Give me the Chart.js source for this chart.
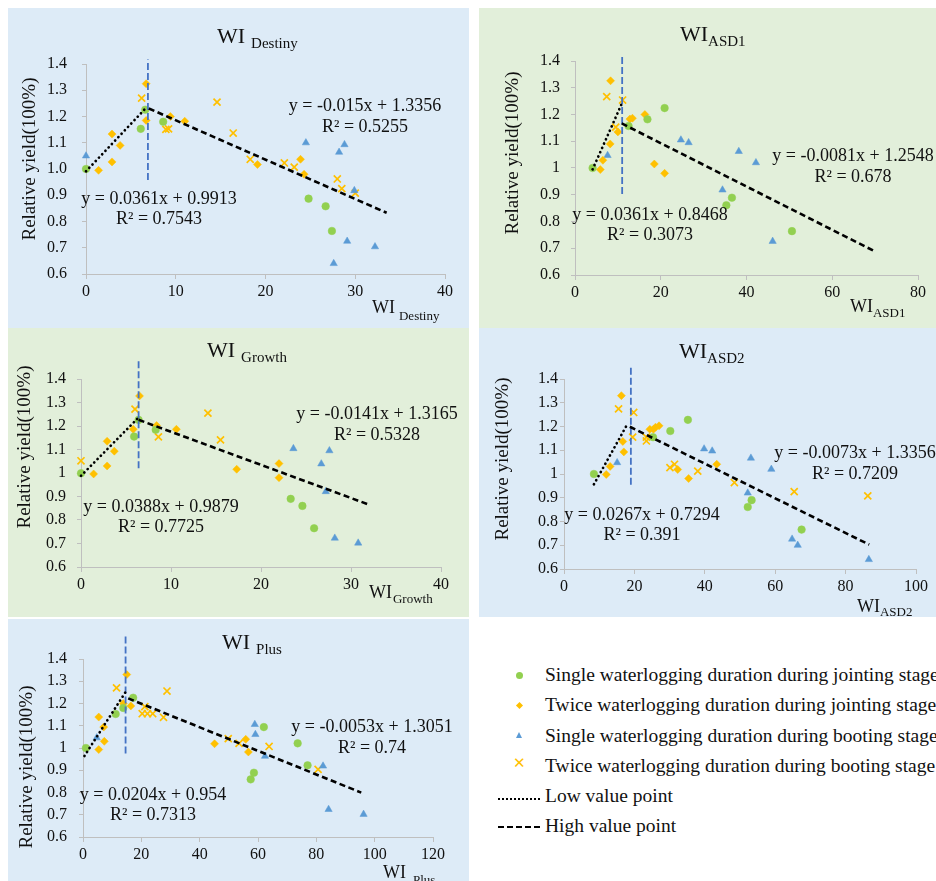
<!DOCTYPE html>
<html>
<head>
<meta charset="utf-8">
<script src="https://cdn.jsdelivr.net/npm/chart.js@4.4.1/dist/chart.umd.min.js"></script>
<style>
  body { margin: 0; width: 936px; height: 881px; position: relative; overflow: hidden; background: #fff; font-family: "Liberation Serif", serif; }
  canvas { position: absolute; }
  .blue { background: #DDEBF7; }
  .green { background: #E2EFDA; }
  .row { position: absolute; left: 545px; height: 22px; line-height: 22px; font-size: 19.5px; color: #111; white-space: nowrap; }
  .mk { position: absolute; }
</style>
</head>
<body>
<canvas id="pDestiny" class="blue" width="461" height="320" style="left:8px;top:8px"></canvas>
<canvas id="pASD1" class="green" width="457" height="320" style="left:479px;top:8px"></canvas>
<canvas id="pGrowth" class="green" width="461" height="289" style="left:8px;top:328px"></canvas>
<canvas id="pASD2" class="blue" width="457" height="289" style="left:479px;top:328px"></canvas>
<canvas id="pPlus" class="blue" width="461" height="262" style="left:8px;top:619px"></canvas>

<div id="legend">
  <span class="mk" style="left:516px;top:672px;width:7px;height:7px;border-radius:50%;background:#92D050"></span>
  <div class="row" style="top:664px">Single waterlogging duration during jointing stage</div>
  <span class="mk" style="left:516.5px;top:702.5px;width:5px;height:5px;transform:rotate(45deg);background:#FFC000"></span>
  <div class="row" style="top:694px">Twice waterlogging duration during jointing stage</div>
  <span class="mk" style="left:515.5px;top:732px;width:0;height:0;border-left:3.5px solid transparent;border-right:3.5px solid transparent;border-bottom:6px solid #5B9BD5"></span>
  <div class="row" style="top:725px">Single waterlogging duration during booting stage</div>
  <span class="mk" style="left:513px;top:754px;font-size:15px;color:#FFC000;font-family:'DejaVu Sans'">&#x2715;</span>
  <div class="row" style="top:755px">Twice waterlogging duration during booting stage</div>
  <span class="mk" style="left:498px;top:798px;width:42px;border-top:2px dotted #000"></span>
  <div class="row" style="top:785px">Low value point</div>
  <span class="mk" style="left:498px;top:826px;width:42px;border-top:2px dashed #000"></span>
  <div class="row" style="top:815px">High value point</div>
</div>

<script>
// WI Destiny
const destinyJ1 = [[0,1.00],[6.1,1.153],[6.6,1.226],[8.6,1.18],[24.8,0.887],[26.7,0.858],[27.4,0.764]];
const destinyJ2 = [[1.4,0.995],[2.9,1.133],[3.8,1.09],[2.9,1.027],[6.7,1.325],[6.7,1.185],[9.4,1.2],[11.0,1.182],[19.1,1.017],[23.9,1.037],[24.3,0.98]];
const destinyB1 = [[0,1.05],[24.5,1.1],[28.2,1.064],[28.8,1.093],[29.9,0.918],[29.1,0.725],[32.2,0.704],[27.6,0.64]];
const destinyB2 = [[6.2,1.27],[14.6,1.255],[8.9,1.151],[9.2,1.153],[16.4,1.137],[18.3,1.037],[22.1,1.023],[23.2,1.007],[28.0,0.962],[28.5,0.925],[30.0,0.908]];
const destinyLow = [0.0361, 0.9913, 0.7543, 0, 6.7];
const destinyHigh = [-0.015, 1.3356, 0.5255, 7.0, 33.5];
const destinyBreak = [6.9, 0.958, 1.417];

// WI ASD1
const asd1J1 = [[4.1,1.0],[12.5,1.157],[16.9,1.182],[20.9,1.224],[36.6,0.889],[35.3,0.861],[50.6,0.764]];
const asd1J2 = [[5.9,0.994],[6.5,1.029],[8.2,1.09],[8.3,1.326],[10.0,1.135],[12.8,1.183],[13.4,1.186],[16.3,1.2],[18.5,1.015],[20.9,0.98]];
const asd1B1 = [[7.6,1.047],[24.7,1.105],[26.5,1.095],[38.2,1.062],[42.2,1.02],[34.4,0.918],[46.1,0.726]];
const asd1B2 = [[7.4,1.267],[11.1,1.254],[9.5,1.153]];
const asd1Low = [0.0361, 0.8468, 0.3073, 4.1, 10.9];
const asd1High = [-0.0081, 1.2548, 0.678, 10.9, 69.6];
const asd1Break = [11.0, 0.903, 1.419];

// WI Growth
const growthJ1 = [[0,0.999],[5.9,1.155],[6.4,1.226],[8.3,1.184],[23.3,0.89],[24.6,0.86],[25.9,0.765]];
const growthJ2 = [[1.4,0.996],[2.9,1.135],[2.9,1.03],[3.7,1.093],[5.8,1.186],[6.5,1.328],[8.4,1.202],[10.6,1.186],[17.3,1.016],[22.0,1.04],[22.0,0.98]];
const growthB1 = [[23.6,1.104],[26.7,1.039],[27.6,1.095],[27.2,0.921],[28.2,0.723],[30.8,0.702]];
const growthB2 = [[0,1.052],[6.0,1.272],[14.1,1.255],[8.6,1.154],[15.5,1.141]];
const growthLow = [0.0388, 0.9879, 0.7725, 0, 6.3];
const growthHigh = [-0.0141, 1.3165, 0.5328, 6.4, 32.0];
const growthBreak = [6.4, 1.02, 1.484];

// WI ASD2
const asd2J1 = [[8.5,1.0],[25.3,1.155],[30.2,1.181],[35.2,1.228],[52.2,0.861],[53.3,0.89],[67.5,0.766]];
const asd2J2 = [[12.0,0.998],[13.1,1.032],[16.3,1.33],[16.7,1.137],[17.0,1.093],[24.4,1.188],[25.4,1.188],[26.0,1.197],[27.0,1.203],[32.3,1.019],[35.4,0.981],[43.4,1.041]];
const asd2B1 = [[15.1,1.048],[39.8,1.106],[42.1,1.097],[53.1,1.067],[58.9,1.02],[52.2,0.92],[64.8,0.726],[66.4,0.70],[86.6,0.64]];
const asd2B2 = [[15.5,1.274],[19.8,1.259],[19.5,1.155],[23.4,1.155],[23.4,1.139],[30.1,1.027],[31.4,1.041],[38.0,1.012],[48.4,0.964],[65.4,0.926],[86.3,0.908]];
const asd2Low = [0.0267, 0.7294, 0.391, 8.5, 17.7];
const asd2High = [-0.0073, 1.3356, 0.7209, 18.7, 86.7];
const asd2Break = [19.0, 0.955, 1.449];

// WI Plus
const plusJ1 = [[1.0,1.0],[11.2,1.153],[13.8,1.18],[17.2,1.226],[57.5,0.859],[58.6,0.889],[62.0,1.094],[73.6,1.021],[77.0,0.922]];
const plusJ2 = [[5.4,1.139],[5.4,0.993],[7.1,1.094],[7.3,1.03],[13.8,1.2],[15.0,1.33],[16.4,1.189],[45.1,1.019],[55.8,1.039],[56.7,0.982]];
const plusB1 = [[4.7,1.046],[59.1,1.061],[58.9,1.106],[62.4,0.963],[82.3,0.919],[84.2,0.724],[96.2,0.702]];
const plusB2 = [[11.5,1.27],[21.2,1.186],[20.3,1.154],[22.1,1.154],[23.9,1.154],[27.6,1.138],[28.8,1.256],[49.8,1.042],[53.5,1.021],[63.8,1.007],[80.6,0.904]];
const plusLow = [0.0204, 0.954, 0.7313, 0.5, 14.6];
const plusHigh = [-0.0053, 1.3051, 0.74, 15.5, 95.4];
const plusBreak = [14.6, 0.975, 1.512];

// tick labels
const yValues = [0.6, 0.7, 0.8, 0.9, 1.0, 1.1, 1.2, 1.3, 1.4];
const yTicksDestiny = ['0.6','0.7','0.8','0.9','1.0','1.1','1.2','1.3','1.4'];
const yTicksOther = ['0.6','0.7','0.8','0.9','1','1.1','1.2','1.3','1.4'];
const xTicks40 = [0, 10, 20, 30, 40];
const xTicks80 = [0, 20, 40, 60, 80];
const xTicks100 = [0, 20, 40, 60, 80, 100];
const xTicks120 = [0, 20, 40, 60, 80, 100, 120];

const FONT = '"Liberation Serif"';
const INK = '#111';

function pts(arr) { return arr.map(p => ({ x: p[0], y: p[1] })); }
function fitPts(f) { return [{ x: f[3], y: f[0] * f[3] + f[1] }, { x: f[4], y: f[0] * f[4] + f[1] }]; }
function eqText(f) { return 'y = ' + f[0] + 'x + ' + f[1]; }

function drawSub(c, main, sub, x, base, big, small, gap, drop) {
  c.font = big + 'px ' + FONT;
  c.textAlign = 'left';
  c.textBaseline = 'alphabetic';
  c.fillText(main, x, base);
  const w = c.measureText(main).width;
  c.font = small + 'px ' + FONT;
  c.fillText(sub, x + w + gap, base + drop);
}

function textPlugin(p) {
  return {
    id: 'panelText',
    afterDraw(chart) {
      const c = chart.ctx;
      c.save();
      c.fillStyle = INK;
      drawSub(c, 'WI', p.sub, p.title[0], p.title[1], 22, 15, p.title[2], 5);
      drawSub(c, 'WI', p.sub, p.xTitle[0], p.xTitle[1], 18, 13, p.xTitle[2], p.xTitle[3]);
      c.save();
      c.translate(p.yTitle[0], p.yTitle[1]);
      c.rotate(-Math.PI / 2);
      c.font = '19px ' + FONT;
      c.textAlign = 'center';
      c.textBaseline = 'middle';
      c.fillText('Relative yield(100%)', 0, 0);
      c.restore();
      c.font = '18px ' + FONT;
      c.textAlign = 'center';
      c.textBaseline = 'middle';
      c.fillText(eqText(p.high), p.highPos[0], p.highPos[1]);
      c.fillText('R\u00B2 = ' + p.high[2], p.highPos[0], p.highPos[1] + 21);
      c.fillText(eqText(p.low), p.lowPos[0], p.lowPos[1]);
      c.fillText('R\u00B2 = ' + p.low[2], p.lowPos[0], p.lowPos[1] + 20);
      c.restore();
    }
  };
}

function makePanel(p) {
  const canvas = document.getElementById(p.id);
  const tickFont = { family: FONT, size: 16 };
  new Chart(canvas, {
    type: 'scatter',
    data: {
      datasets: [
        { type: 'line', data: fitPts(p.low), borderColor: '#000', borderWidth: 2.7, borderDash: [0.1, 4.6], borderCapStyle: 'round', pointRadius: 0, order: 0, clip: false },
        { type: 'line', data: fitPts(p.high), borderColor: '#000', borderWidth: 2.6, borderDash: [6, 3.5], pointRadius: 0, order: 0, clip: false },
        { type: 'line', data: [{ x: p.brk[0], y: p.brk[1] }, { x: p.brk[0], y: p.brk[2] }], borderColor: '#4472C4', borderWidth: 1.8, borderDash: [7, 3], pointRadius: 0, order: 0, clip: false },
        { data: pts(p.j1), pointStyle: 'circle', pointRadius: 3.8, backgroundColor: '#92D050', borderColor: '#92D050', borderWidth: 0.5, order: 1, clip: false },
        { data: pts(p.j2), pointStyle: 'rectRot', pointRadius: 4, backgroundColor: '#FFC000', borderColor: '#FFC000', borderWidth: 0.5, order: 1, clip: false },
        { data: pts(p.b1), pointStyle: 'triangle', pointRadius: 4.2, backgroundColor: '#5B9BD5', borderColor: '#5B9BD5', borderWidth: 0.5, order: 1, clip: false },
        { data: pts(p.b2), pointStyle: 'crossRot', pointRadius: 5, backgroundColor: '#FFC000', borderColor: '#FFC000', borderWidth: 1.7, order: 1, clip: false }
      ]
    },
    options: {
      responsive: false,
      animation: false,
      devicePixelRatio: 1,
      layout: { padding: { left: 0, top: p.area[1], right: p.area[2], bottom: 0 } },
      plugins: { legend: { display: false }, tooltip: { enabled: false } },
      scales: {
        x: {
          type: 'linear',
          min: 0,
          max: p.xTicks[p.xTicks.length - 1],
          afterBuildTicks: s => { s.ticks = p.xTicks.map(v => ({ value: v })); },
          afterFit: s => { s.height = p.area[3]; },
          grid: { drawOnChartArea: false, tickLength: 5, color: '#BFBFBF' },
          border: { color: '#BFBFBF' },
          ticks: { font: tickFont, color: INK, padding: 3, maxRotation: 0, autoSkip: false, callback: v => String(v) }
        },
        y: {
          min: 0.6,
          max: 1.4,
          afterBuildTicks: s => { s.ticks = yValues.map(v => ({ value: v })); },
          afterFit: s => { s.width = p.area[0]; },
          grid: { drawOnChartArea: false, tickLength: 4, color: '#BFBFBF' },
          border: { color: '#BFBFBF' },
          ticks: { font: tickFont, color: INK, padding: p.yPad, autoSkip: false, callback: (v, i) => p.yTicks[i] }
        }
      }
    },
    plugins: [textPlugin(p)]
  });
}

function drawAll() {
  // area: [y axis width, top pad, right pad, x axis height]
  makePanel({ id: 'pDestiny', sub: 'Destiny', j1: destinyJ1, j2: destinyJ2, b1: destinyB1, b2: destinyB2,
    low: destinyLow, high: destinyHigh, brk: destinyBreak, xTicks: xTicks40, yTicks: yTicksDestiny,
    area: [78, 56, 24, 54], yPad: 15, title: [209, 35, 6], xTitle: [364, 305, 4, 7], yTitle: [22, 151],
    highPos: [357, 98], lowPos: [151, 191] });
  makePanel({ id: 'pASD1', sub: 'ASD1', j1: asd1J1, j2: asd1J2, b1: asd1B1, b2: asd1B2,
    low: asd1Low, high: asd1High, brk: asd1Break, xTicks: xTicks80, yTicks: yTicksOther,
    area: [96, 53, 18, 53], yPad: 11, title: [201, 33, 0], xTitle: [371, 304, 0, 5], yTitle: [34, 145],
    highPos: [374, 148], lowPos: [171, 207] });
  makePanel({ id: 'pGrowth', sub: 'Growth', j1: growthJ1, j2: growthJ2, b1: growthB1, b2: growthB2,
    low: growthLow, high: growthHigh, brk: growthBreak, xTicks: xTicks40, yTicks: yTicksOther,
    area: [73, 51, 28, 50], yPad: 11, title: [199, 29, 6], xTitle: [361, 270, 1, 5], yTitle: [17, 119],
    highPos: [369, 86], lowPos: [153, 179] });
  makePanel({ id: 'pASD2', sub: 'ASD2', j1: asd2J1, j2: asd2J2, b1: asd2B1, b2: asd2B2,
    low: asd2Low, high: asd2High, brk: asd2Break, xTicks: xTicks100, yTicks: yTicksOther,
    area: [85, 51, 20, 48], yPad: 2, title: [200, 30, 0], xTitle: [378, 284, 0, 4], yTitle: [24, 131],
    highPos: [376, 125], lowPos: [163, 187] });
  makePanel({ id: 'pPlus', sub: 'Plus', j1: plusJ1, j2: plusJ2, b1: plusB1, b2: plusB2,
    low: plusLow, high: plusHigh, brk: plusBreak, xTicks: xTicks120, yTicks: yTicksOther,
    area: [75, 40, 36, 44], yPad: 12, title: [214, 30, 6], xTitle: [375, 259, 7, 6], yTitle: [19, 148],
    highPos: [364, 108], lowPos: [145, 176] });
}

Promise.all([
  document.fonts.load('16px "Liberation Serif"'),
  document.fonts.load('22px "Liberation Serif"')
]).then(drawAll, drawAll);
</script>
</body>
</html>
